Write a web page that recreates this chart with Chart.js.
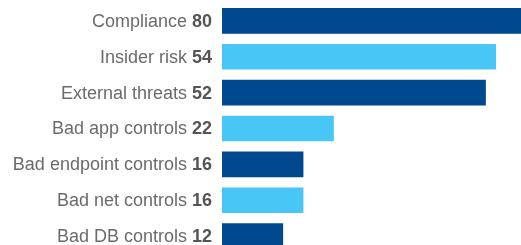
<!DOCTYPE html>
<html>
<head>
<meta charset="utf-8">
<script src="https://cdn.jsdelivr.net/npm/chart.js@4/dist/chart.umd.min.js"></script>
<style>
  html, body { margin: 0; padding: 0; background: #fff; }
  #frame { width: 521px; height: 245px; overflow: hidden; position: relative; }
  #box { width: 521px; height: 254px; position: absolute; top: 0; left: 0; }
</style>
</head>
<body>
<div id="frame"><div id="box"><canvas id="riskChart"></canvas></div></div>
<script>
const categories = ['Compliance', 'Insider risk', 'External threats', 'Bad app controls',
    'Bad endpoint controls', 'Bad net controls', 'Bad DB controls'];
const values = [80, 54, 52, 22, 16, 16, 12];
const barColors = ['#00498f', '#48c6f5', '#00498f', '#48c6f5', '#00498f', '#48c6f5', '#00498f'];

// labels are "Name **value**" with two fonts, so draw them by hand
const labelPlugin = {
    id: 'labels',
    afterDraw(chart) {
        const ctx = chart.ctx;
        const yScale = chart.scales.y;
        const right = chart.chartArea.left - 10;
        ctx.save();
        ctx.textBaseline = 'middle';
        ctx.textAlign = 'left';
        categories.forEach((name, i) => {
            const y = yScale.getPixelForValue(i) + 1;
            const num = String(values[i]);
            ctx.font = 'bold 18px "Liberation Sans", Arial, sans-serif';
            const numW = ctx.measureText(num).width;
            ctx.font = '18px "Liberation Sans", Arial, sans-serif';
            const nameW = ctx.measureText(name + ' ').width;
            ctx.fillStyle = '#6b6b6b';
            ctx.fillText(name + ' ', right - numW - nameW, y);
            ctx.font = 'bold 18px "Liberation Sans", Arial, sans-serif';
            ctx.fillStyle = '#555555';
            ctx.fillText(num, right - numW, y);
        });
        ctx.restore();
    }
};

const ctx = document.getElementById('riskChart').getContext('2d');
new Chart(ctx, {
    type: 'bar',
    data: {
        labels: categories,
        datasets: [{
            data: values,
            backgroundColor: barColors,
            borderWidth: 0,
            barThickness: 25
        }]
    },
    options: {
        indexAxis: 'y',
        responsive: true,
        maintainAspectRatio: false,
        animation: false,
        layout: {
            padding: { left: 222, top: 3, right: 0, bottom: 0 }
        },
        scales: {
            x: { display: false, min: 0, max: 59 },
            y: { display: false }
        },
        plugins: {
            legend: { display: false },
            tooltip: { enabled: false }
        }
    },
    plugins: [labelPlugin]
});
</script>
</body>
</html>
